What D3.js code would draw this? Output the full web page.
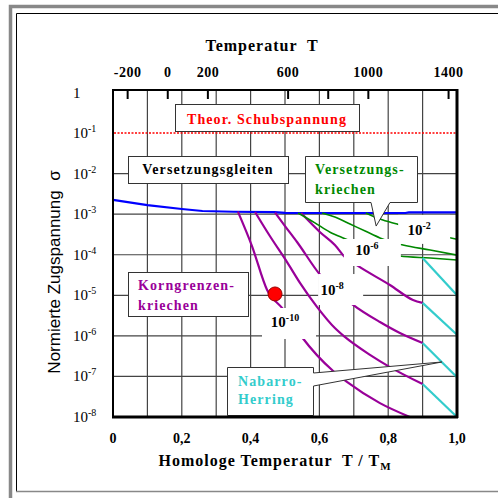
<!DOCTYPE html>
<html>
<head>
<meta charset="utf-8">
<script src="https://cdn.jsdelivr.net/npm/d3@7"></script>
<style>
  body { margin: 0; background: #fff; }
  svg { display: block; }
  text { font-family: "Liberation Serif", "Times New Roman", serif; }
</style>
</head>
<body>
<div id="chart"></div>
<script>
// axes
const homTicks = [0, 0.2, 0.4, 0.6, 0.8, 1.0];
const homLabels = ["0", "0,2", "0,4", "0,6", "0,8", "1,0"];
const tempTicks = [-200, 0, 200, 600, 800, 1000, 1400];
const tempLabels = ["-200", "0", "200", "600", "", "1000", "1400"];
const meltingK = 1715;
const stressTicks = [1, 1e-1, 1e-2, 1e-3, 1e-4, 1e-5, 1e-6, 1e-7, 1e-8];
const stressExp = ["", "-1", "-2", "-3", "-4", "-5", "-6", "-7", "-8"];

// Versetzungsgleiten boundary (blue)
const glide = [[0, 2.25e-3], [0.1, 1.68e-3], [0.2, 1.34e-3], [0.26, 1.2e-3], [0.35, 1.15e-3],
  [0.47, 1.13e-3], [0.5, 1.08e-3], [0.6, 1.07e-3], [0.85, 1.07e-3], [0.86, 1.11e-3], [1.0, 1.11e-3]];

// Korngrenzenkriechen contours (purple)
const grainBoundary = [
  [[0.363, 1.16e-3], [0.404, 1.64e-4], [0.448, 1.35e-5], [0.494, 4.6e-6], [0.549, 9.4e-7],
   [0.640, 1.36e-7], [0.680, 7.3e-8], [0.776, 2.2e-8], [0.863, 1e-8]],
  [[0.413, 1.13e-3], [0.456, 2.9e-4], [0.506, 6.6e-5], [0.544, 2.0e-5], [0.593, 5.2e-6],
   [0.645, 1.56e-6], [0.674, 9.4e-7], [0.747, 3.4e-7], [0.805, 1.7e-7], [0.9, 6.5e-8]],
  [[0.471, 1.1e-3], [0.5, 5.1e-4], [0.535, 2.06e-4], [0.602, 3.2e-5], [0.695, 6.1e-6],
   [0.776, 2.2e-6], [0.834, 1.18e-6], [0.9, 6.7e-7]],
  [[0.547, 1.07e-3], [0.602, 3.6e-4], [0.645, 1.74e-4], [0.674, 8.8e-5], [0.712, 5.3e-5],
   [0.805, 1.8e-5], [0.872, 7.7e-6], [0.9, 6.5e-6]]
];

// Versetzungskriechen contours (green)
const dislocationCreep = [
  [[0.538, 1.07e-3], [0.587, 6.1e-4], [0.631, 3.6e-4], [0.669, 2.6e-4], [0.834, 9.3e-5],
   [0.922, 8.3e-5], [1.0, 7.4e-5]],
  [[0.608, 1.07e-3], [0.645, 8.5e-4], [0.689, 5.7e-4], [0.733, 3.85e-4], [0.776, 2.6e-4],
   [0.843, 1.74e-4], [0.922, 1.31e-4], [1.0, 9.8e-5]],
  [[0.735, 1.07e-3], [0.776, 7.6e-4], [0.826, 5.7e-4], [0.922, 3.4e-4], [1.0, 2.4e-4]]
];

// Nabarro-Herring contours (cyan)
const nabarroHerring = [
  [[0.9, 8.3e-5], [1.0, 1.0e-5]],
  [[0.9, 6.5e-6], [1.0, 1.07e-6]],
  [[0.9, 6.7e-7], [1.0, 9.5e-8]],
  [[0.9, 6.5e-8], [1.0, 1e-8]]
];

// strain rate labels
const rateExp = ["-2", "-6", "-8", "-10"];
const rateX = [0.890, 0.738, 0.637, 0.5];
const rateS = [4.1e-4, 1.31e-4, 1.35e-5, 2.2e-6];

const marker = [0.471, 1.08e-5];
const creepTip = [0.765, 5.1e-4];
const nhTip = [0.956, 2.27e-7];

const width = 498, height = 498;
const svg = d3.select("#chart").append("svg").attr("width", width).attr("height", height);
svg.append("rect").attr("width", width).attr("height", height).attr("fill", "#fff");

const x = d3.scaleLinear().domain([0, 1]).range([113, 457]);
const y = d3.scaleLog().domain([1, 1e-8]).range([92.5, 417]);
const xTemp = t => x((t + 273) / meltingK);

// outer frame
svg.append("path").attr("d", "M10.5,498 V6.5 H498").attr("fill", "none")
  .attr("stroke", "#888").attr("stroke-width", 3.5);
svg.append("path").attr("d", "M16.5,491 V13.5 H498").attr("fill", "none")
  .attr("stroke", "#000").attr("stroke-width", 1);
svg.append("line").attr("x1", 16).attr("x2", 498).attr("y1", 491.5).attr("y2", 491.5)
  .attr("stroke", "#888").attr("stroke-width", 1.5);

// grid
const grid = svg.append("g").attr("stroke", "#444").attr("stroke-width", 1.2);
grid.selectAll("line.v").data(x.ticks(10).slice(1, -1)).enter().append("line")
  .attr("x1", d => x(d)).attr("x2", d => x(d)).attr("y1", 90).attr("y2", 417);
grid.selectAll("line.h").data(stressTicks.slice(2, -1)).enter().append("line")
  .attr("x1", 113).attr("x2", 457).attr("y1", d => y(d)).attr("y2", d => y(d));

// theoretical shear stress
svg.append("line").attr("x1", 114).attr("x2", 456).attr("y1", y(1e-1)).attr("y2", y(1e-1))
  .attr("stroke", "#f00").attr("stroke-width", 1.5).attr("stroke-dasharray", "2,1.5");

const line = d3.line().x(d => x(d[0])).y(d => y(d[1]));
const smooth = d3.line().x(d => x(d[0])).y(d => y(d[1])).curve(d3.curveMonotoneX);

svg.append("path").attr("d", line(glide)).attr("fill", "none")
  .attr("stroke", "#0000ff").attr("stroke-width", 2.2);

svg.selectAll("path.gb").data(grainBoundary).enter().append("path")
  .attr("d", smooth).attr("fill", "none").attr("stroke", "#990099").attr("stroke-width", 2.2);
svg.selectAll("path.dc").data(dislocationCreep).enter().append("path")
  .attr("d", smooth).attr("fill", "none").attr("stroke", "#008800").attr("stroke-width", 1.6);
svg.selectAll("path.nh").data(nabarroHerring).enter().append("path")
  .attr("d", line).attr("fill", "none").attr("stroke", "#33cccc").attr("stroke-width", 2.2);

// white fields behind the contour labels
const labelPad = [[-21, 31, -15, 14], [-23, 34, -11, 16], [-14, 31, -16, 15], [-23, 31, -14, 17]];
rateExp.forEach((e, i) => {
  const cx = x(rateX[i]), cy = y(rateS[i]), p = labelPad[i];
  svg.append("rect").attr("x", cx + p[0]).attr("y", cy + p[2])
    .attr("width", p[1] - p[0]).attr("height", p[3] - p[2]).attr("fill", "#fff");
  const t = svg.append("text").attr("x", cx).attr("y", cy + 5).attr("text-anchor", "middle")
    .attr("font-size", 15).attr("font-weight", "bold");
  t.append("tspan").text("10");
  t.append("tspan").attr("dy", -6).attr("font-size", 10).text(e);
});

// callout boxes
function box(x0, y0, x1, y1) {
  svg.append("rect").attr("x", x0 + 0.5).attr("y", y0 + 0.5).attr("width", x1 - x0).attr("height", y1 - y0)
    .attr("fill", "#fff").attr("stroke", "#333").attr("stroke-width", 1);
}
function label(str, lx, ly, color, anchor) {
  svg.append("text").attr("x", lx).attr("y", ly).attr("fill", color)
    .attr("font-size", 14).attr("font-weight", "bold").attr("letter-spacing", 1.1)
    .attr("text-anchor", anchor || "start").text(str);
}

box(175, 104, 359, 131);
label("Theor. Schubspannung", 267, 124, "#ff0000", "middle");

box(128, 156, 288, 183);
label("Versetzungsgleiten", 208, 174, "#000", "middle");

const tx = x(creepTip[0]), ty = y(creepTip[1]);
svg.append("path")
  .attr("d", `M305.5,156.5 H417.5 V202.5 H390 L${tx},${ty} L371,202.5 H305.5 Z`)
  .attr("fill", "#fff").attr("stroke", "#333").attr("stroke-width", 1);
label("Versetzungs-", 315, 174, "#008800");
label("kriechen", 315, 194, "#008800");

box(128, 272, 248, 316);
label("Korngrenzen-", 138, 290, "#990099");
label("kriechen", 138, 310, "#990099");

const nx = x(nhTip[0]), ny = y(nhTip[1]);
svg.append("path")
  .attr("d", `M227.5,367.5 H313.5 V373 L${nx},${ny} L313.5,386 V415.5 H227.5 Z`)
  .attr("fill", "#fff").attr("stroke", "#333").attr("stroke-width", 1);
label("Nabarro-", 238, 386, "#33cccc");
label("Herring", 238, 404, "#33cccc");

// marker
svg.append("circle").attr("cx", x(marker[0])).attr("cy", y(marker[1])).attr("r", 7)
  .attr("fill", "#ff0000").attr("stroke", "#990000").attr("stroke-width", 1);

// plot frame
svg.append("rect").attr("x", 113).attr("y", 90).attr("width", 344).attr("height", 327)
  .attr("fill", "none").attr("stroke", "#000").attr("stroke-width", 2);
svg.append("line").attr("x1", 457).attr("x2", 457).attr("y1", 89).attr("y2", 418)
  .attr("stroke", "#000").attr("stroke-width", 3);
svg.append("line").attr("x1", 112).attr("x2", 458).attr("y1", 417).attr("y2", 417)
  .attr("stroke", "#000").attr("stroke-width", 3);

// top temperature axis
svg.selectAll("line.tt").data(tempTicks).enter().append("line")
  .attr("x1", d => xTemp(d)).attr("x2", d => xTemp(d)).attr("y1", 90).attr("y2", 99)
  .attr("stroke", "#000").attr("stroke-width", 2);
svg.selectAll("text.tt").data(tempTicks).enter().append("text")
  .attr("x", d => xTemp(d)).attr("y", 77).attr("text-anchor", "middle")
  .attr("font-size", 14).attr("font-weight", "bold").attr("letter-spacing", 0.5)
  .text((d, i) => tempLabels[i]);
svg.append("text").attr("x", 262).attr("y", 51).attr("text-anchor", "middle")
  .attr("font-size", 16).attr("font-weight", "bold").attr("letter-spacing", 1)
  .attr("xml:space", "preserve").text("Temperatur  T");

// bottom homologous axis
svg.selectAll("text.bt").data(homTicks).enter().append("text")
  .attr("x", d => x(d)).attr("y", 443).attr("text-anchor", "middle")
  .attr("font-size", 14).attr("font-weight", "bold")
  .text((d, i) => homLabels[i]);
const bt = svg.append("text").attr("x", 275).attr("y", 466).attr("text-anchor", "middle")
  .attr("font-size", 16).attr("font-weight", "bold").attr("letter-spacing", 1)
  .attr("xml:space", "preserve");
bt.append("tspan").text("Homologe Temperatur  T / T");
bt.append("tspan").attr("dy", 4).attr("font-size", 11).text("M");

// left stress axis
stressTicks.forEach((v, i) => {
  const t = svg.append("text").attr("x", 73).attr("y", y(v) + 5).attr("font-size", 15);
  t.append("tspan").text(stressExp[i] ? "10" : "1");
  if (stressExp[i]) t.append("tspan").attr("dy", -6).attr("font-size", 10).text(stressExp[i]);
});
svg.append("text").attr("transform", "translate(60,272) rotate(-90)").attr("text-anchor", "middle")
  .attr("font-size", 17).style("font-family", "'Liberation Sans', Arial, sans-serif")
  .attr("xml:space", "preserve").text("Normierte Zugspannung  σ");
</script>
</body>
</html>
